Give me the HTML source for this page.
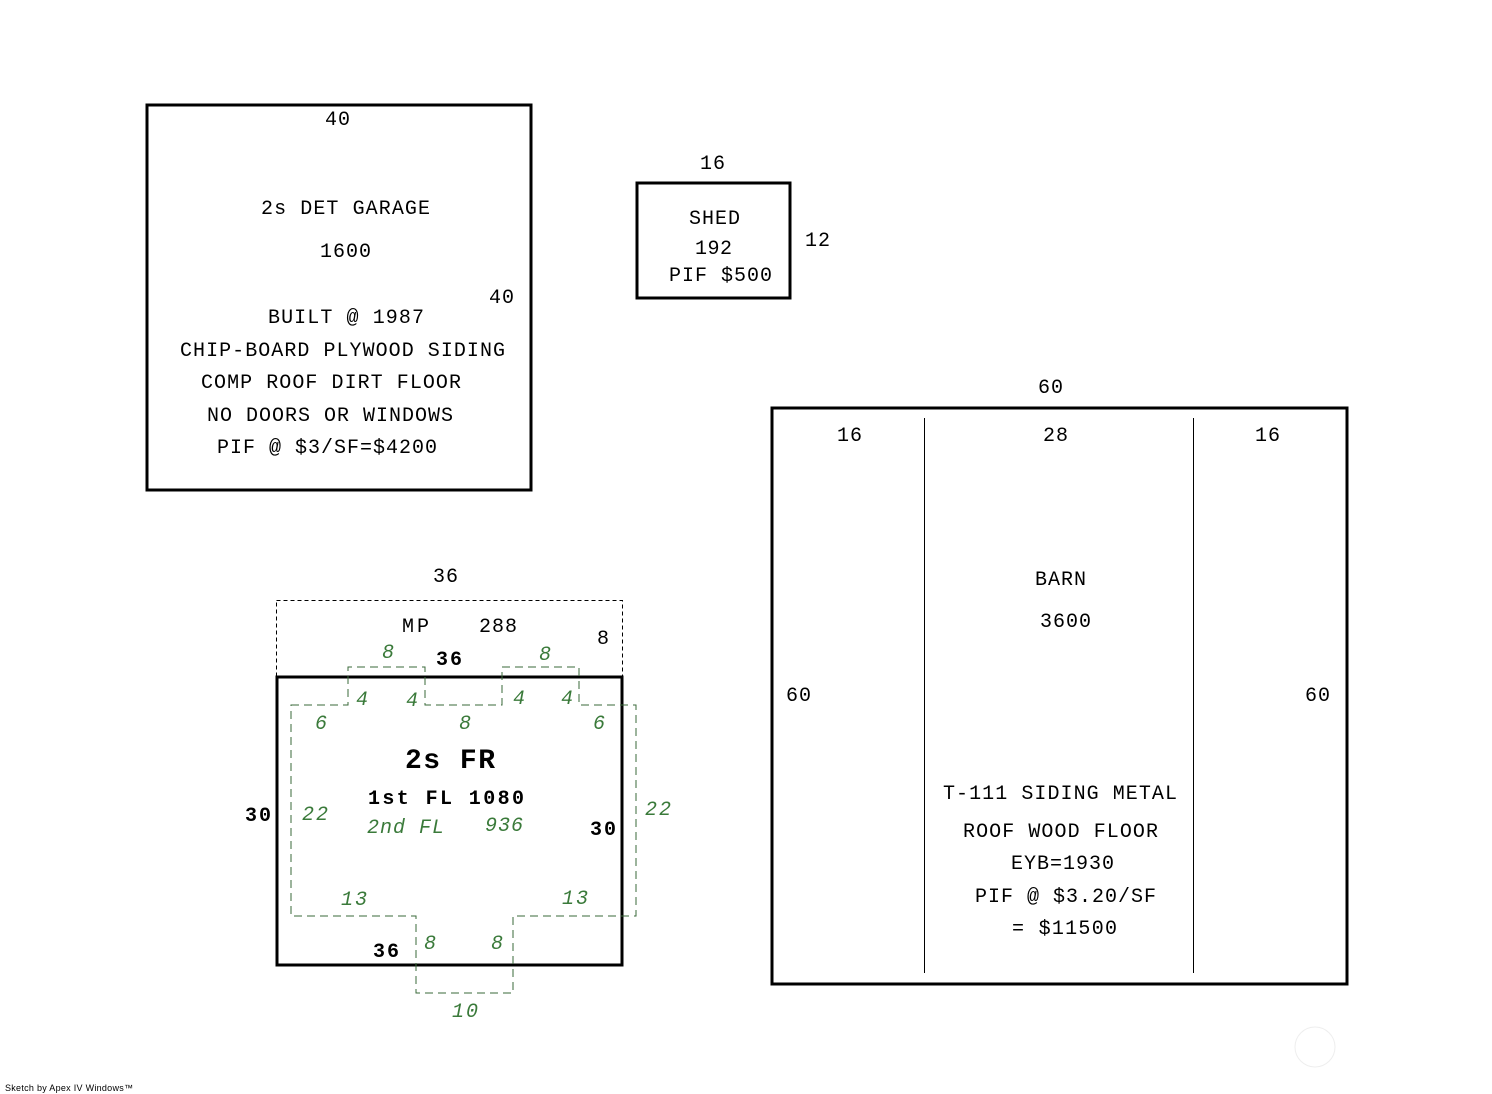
<!DOCTYPE html>
<html><head><style>body{margin:0;background:#fff}svg{display:block}</style></head><body>
<svg width="1492" height="1094" viewBox="0 0 1492 1094" xmlns="http://www.w3.org/2000/svg" font-family="Liberation Mono, monospace" font-size="20">
<rect x="147" y="105" width="384" height="385" fill="none" stroke="#000" stroke-width="3"/>
<rect x="637" y="183" width="153" height="115" fill="none" stroke="#000" stroke-width="3"/>
<rect x="772" y="408" width="575" height="576" fill="none" stroke="#000" stroke-width="3"/>
<line x1="924.5" y1="418" x2="924.5" y2="973" stroke="#000" stroke-width="1"/>
<line x1="1193.5" y1="418" x2="1193.5" y2="973" stroke="#000" stroke-width="1"/>
<rect x="276.5" y="600.5" width="346" height="77" fill="none" stroke="#000" stroke-width="1" stroke-dasharray="4,3"/>
<rect x="277" y="677" width="345" height="288" fill="none" stroke="#000" stroke-width="3"/>
<polygon points="291,705 348,705 348,667 425,667 425,705 502,705 502,667 579,667 579,705 636,705 636,916 513,916 513,993 416,993 416,916 291,916" fill="none" stroke="#3a6a3a" stroke-width="1" stroke-dasharray="8,5"/>
<circle cx="1315" cy="1047" r="20" fill="none" stroke="#eee" stroke-width="1"/>
<g fill="#000">
<text x="325" y="125" textLength="25">40</text>
<text x="261" y="214" textLength="169">2s DET GARAGE</text>
<text x="320" y="257" textLength="51">1600</text>
<text x="489" y="303" textLength="25">40</text>
<text x="268" y="323" textLength="156">BUILT @ 1987</text>
<text x="180" y="356" textLength="325">CHIP-BOARD PLYWOOD SIDING</text>
<text x="201" y="388" textLength="260">COMP ROOF DIRT FLOOR</text>
<text x="207" y="421" textLength="246">NO DOORS OR WINDOWS</text>
<text x="217" y="453" textLength="220">PIF @ $3/SF=$4200</text>
<text x="700" y="169" textLength="25">16</text>
<text x="689" y="224" textLength="51">SHED</text>
<text x="695" y="254" textLength="37">192</text>
<text x="669" y="281" textLength="103">PIF $500</text>
<text x="805" y="246" textLength="25">12</text>
<text x="1038" y="393" textLength="25">60</text>
<text x="837" y="441" textLength="25">16</text>
<text x="1043" y="441" textLength="25">28</text>
<text x="1255" y="441" textLength="25">16</text>
<text x="1035" y="585" textLength="51">BARN</text>
<text x="1040" y="627" textLength="51">3600</text>
<text x="786" y="701" textLength="25">60</text>
<text x="1305" y="701" textLength="25">60</text>
<text x="943" y="799" textLength="234">T-111 SIDING METAL</text>
<text x="963" y="837" textLength="195">ROOF WOOD FLOOR</text>
<text x="1011" y="869" textLength="103">EYB=1930</text>
<text x="975" y="902" textLength="181">PIF @ $3.20/SF</text>
<text x="1012" y="934" textLength="105">= $11500</text>
<text x="433" y="582" textLength="25">36</text>
<text x="402" y="632" textLength="27">MP</text>
<text x="479" y="632" textLength="38">288</text>
<text x="597" y="644">8</text>
<text x="436" y="665" font-weight="bold" textLength="26">36</text>
<text x="405" y="768" font-size="28" font-weight="bold" textLength="90">2s FR</text>
<text x="368" y="804" font-weight="bold" textLength="156">1st FL  1080</text>
<text x="245" y="821" font-weight="bold" textLength="26">30</text>
<text x="590" y="835" font-weight="bold" textLength="26">30</text>
<text x="373" y="957" font-weight="bold" textLength="26">36</text>
<text x="5" y="1091" font-family="Liberation Sans, sans-serif" font-size="9" textLength="128">Sketch by Apex IV Windows™</text>
</g>
<g fill="#3a7a3a" font-style="italic">
<text x="382" y="658">8</text>
<text x="539" y="660">8</text>
<text x="356" y="705">4</text>
<text x="406" y="706">4</text>
<text x="513" y="704">4</text>
<text x="561" y="704">4</text>
<text x="315" y="729">6</text>
<text x="459" y="729">8</text>
<text x="593" y="729">6</text>
<text x="302" y="820" textLength="26">22</text>
<text x="645" y="815" textLength="26">22</text>
<text x="367" y="833" textLength="77">2nd FL</text>
<text x="485" y="831" textLength="38">936</text>
<text x="341" y="905" textLength="26">13</text>
<text x="562" y="904" textLength="26">13</text>
<text x="424" y="949">8</text>
<text x="491" y="949">8</text>
<text x="452" y="1017" textLength="26">10</text>
</g>
</svg>
</body></html>
